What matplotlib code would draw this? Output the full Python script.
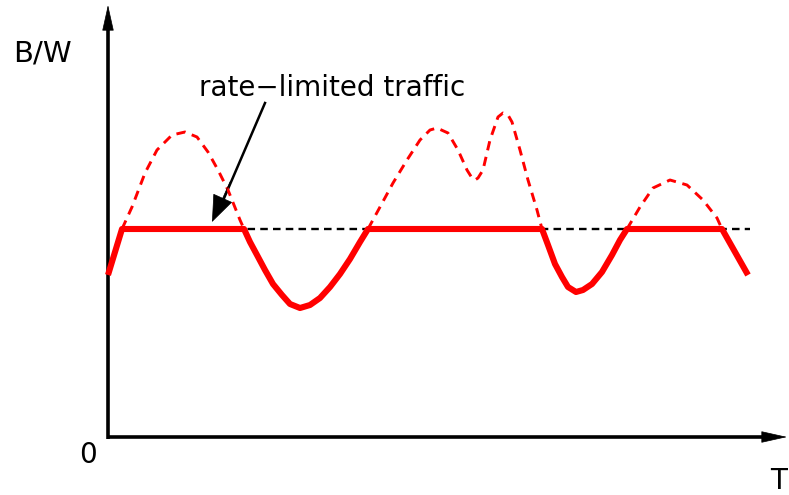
import numpy as np
import matplotlib.pyplot as plt

# curve (x: time offset from axis, y: bandwidth)
time_pts = [0, 14, 24, 37, 49, 64, 77, 89, 100, 110, 120, 132, 136,
            142, 149, 157, 165, 174, 182, 192, 202, 212, 222, 232, 242, 252, 260,
            272, 285, 299, 312, 322, 329, 340, 350, 359, 364, 367, 370, 375,
            382, 390, 395, 400, 404, 412, 420, 429, 434,
            440, 447, 454, 460, 468, 475, 484, 494, 504, 512, 519,
            532, 545, 562, 579, 595, 609, 614, 640]
bw_pts = [162, 208, 230, 264, 287, 302, 305, 300, 285, 267, 247, 217, 208,
          195, 182, 167, 153, 142, 133, 129, 132, 139, 150, 163, 178, 195, 208,
          230, 254, 277, 297, 307, 309, 304, 287, 267, 259, 257, 259, 267,
          297, 320, 324, 322, 315, 287, 257, 227, 208,
          192, 173, 160, 150, 145, 147, 153, 165, 182, 197, 208,
          230, 249, 257, 252, 237, 219, 208, 162]
rate_limit = 208
limit_span = [12, 642]

t = np.array(time_pts, dtype=float)
bw = np.array(bw_pts, dtype=float)

fig = plt.figure(figsize=(7.89, 4.95), dpi=100)
ax = fig.add_axes([0, 0, 1, 1])
ax.set_xlim(-108, 681)
ax.set_ylim(-58, 437)
ax.set_axis_off()


def arrow_head(ax, tip, tail, length, width):
    # filled head only, the shaft is drawn as a plain line
    ax.annotate("", xy=tip, xytext=tail,
                arrowprops=dict(arrowstyle=f"-|>,head_length={length},head_width={width}",
                                color="black", lw=0.5, mutation_scale=10,
                                shrinkA=0, shrinkB=0))


# axes with arrows
ax.plot([0, 0], [-1.5, 420], color="black", lw=2.6, solid_capstyle="butt")
ax.plot([-1.5, 668], [0, 0], color="black", lw=2.6, solid_capstyle="butt")
arrow_head(ax, (0, 432), (0, 400), 1.7, 0.38)
arrow_head(ax, (679, 0), (650, 0), 1.7, 0.38)

# rate limit
ax.plot(limit_span, [rate_limit, rate_limit], color="black", lw=1.7,
        linestyle=(0, (3.2, 2.2)), zorder=2)

# offered traffic above the limit (dashed) and the shaped traffic (thick)
over = np.where(bw >= rate_limit, bw, np.nan)
ax.plot(t, over, color="red", lw=2.1, linestyle=(0, (3.2, 2.3)), zorder=3)
ax.plot(t, np.minimum(bw, rate_limit), color="red", lw=4.4,
        solid_capstyle="butt", solid_joinstyle="round", zorder=4)

# labels
ax.text(-66, 384, "B/W", fontsize=21, ha="center", va="center")
ax.text(-20, -18, "0", fontsize=20, ha="center", va="center")
ax.text(671, -44, "T", fontsize=20, ha="center", va="center")
ax.text(224, 349, "rate\u2212limited traffic", fontsize=20,
        ha="center", va="center")
ax.plot([157, 114], [334, 234], color="black", lw=1.8)
arrow_head(ax, (104, 215), (122, 255), 1.8, 0.7)

fig.savefig("out.png", dpi=100)
